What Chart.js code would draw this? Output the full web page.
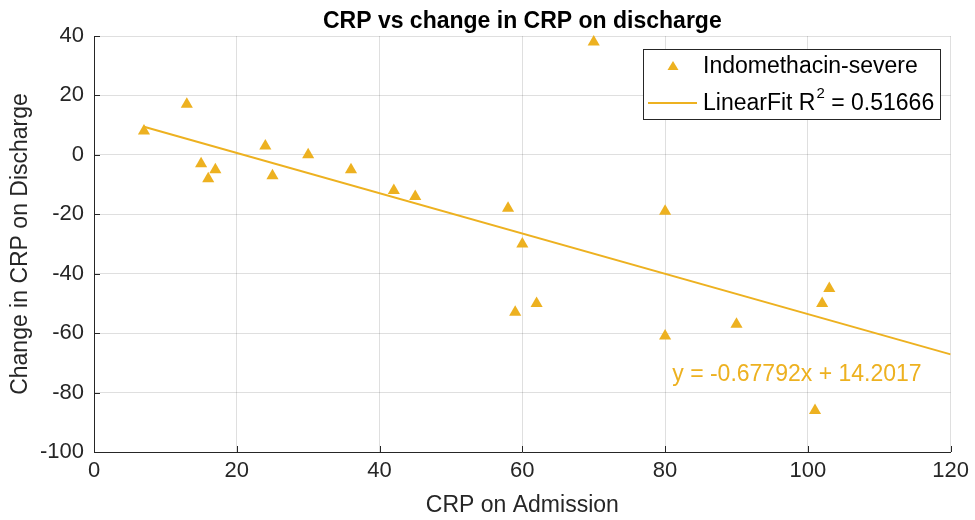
<!DOCTYPE html>
<html>
<head>
<meta charset="utf-8">
<script src="https://cdn.jsdelivr.net/npm/chart.js@4"></script>
<style>
html, body { margin: 0; padding: 0; background: #fff; }
#wrap { width: 975px; height: 520px; }
</style>
</head>
<body>
<div id="wrap"><canvas id="myChart"></canvas></div>
<script>
// data
const crpAdmission = [7, 13, 15, 16, 17, 24, 25, 30, 36, 42, 45, 58, 59, 60, 62, 70, 80, 80, 90, 101, 102, 103];
const crpChange    = [8, 17, -3, -8, -5, 3, -7, 0, -5, -12, -14, -18, -53, -30, -50, 38, -19, -61, -57, -86, -50, -45];
const fitX = [7, 120];
const fitY = [9.456, -67.149];
const xTicks = [0, 20, 40, 60, 80, 100, 120];
const yTicks = [-100, -80, -60, -40, -20, 0, 20, 40];
const seriesLabel = 'Indomethacin-severe';
const fitLabel = 'LinearFit R';
const fitR2 = ' = 0.51666';
const equation = 'y = -0.67792x + 14.2017';
const titleText = 'CRP vs change in CRP on discharge';

const FONT = "'Liberation Sans', Arial, Helvetica, sans-serif";
const ORANGE = '#EDB120';
const AXIS = '#262626';

const decor = {
    id: 'decor',
    afterDraw(chart) {
        const ctx = chart.ctx;
        const xs = chart.scales.x, ys = chart.scales.y;
        const area = chart.chartArea;
        ctx.save();

        // inward tick marks
        ctx.strokeStyle = AXIS;
        ctx.lineWidth = 1;
        ctx.beginPath();
        xTicks.forEach(v => {
            const px = Math.round(xs.getPixelForValue(v)) + 0.5;
            ctx.moveTo(px, area.bottom);
            ctx.lineTo(px, area.bottom - 6);
        });
        yTicks.forEach(v => {
            const py = Math.round(ys.getPixelForValue(v)) + 0.5;
            ctx.moveTo(area.left, py);
            ctx.lineTo(area.left + 6, py);
        });
        ctx.stroke();

        // title
        ctx.fillStyle = '#000';
        ctx.font = 'bold 23px ' + FONT;
        ctx.textAlign = 'center';
        ctx.textBaseline = 'middle';
        ctx.fillText(titleText, (area.left + area.right) / 2, 22);

        // fit equation
        ctx.fillStyle = ORANGE;
        ctx.font = '23px ' + FONT;
        ctx.textAlign = 'left';
        ctx.fillText(equation, xs.getPixelForValue(81), ys.getPixelForValue(-74));

        // legend box
        const bx = 643, by = 49, bw = 297, bh = 70;
        ctx.fillStyle = '#fff';
        ctx.fillRect(bx, by, bw, bh);
        ctx.strokeStyle = AXIS;
        ctx.lineWidth = 1;
        ctx.strokeRect(bx + 0.5, by + 0.5, bw, bh);

        ctx.fillStyle = ORANGE;
        ctx.beginPath();
        ctx.moveTo(673, 61);
        ctx.lineTo(678.5, 70);
        ctx.lineTo(667.5, 70);
        ctx.closePath();
        ctx.fill();

        ctx.strokeStyle = ORANGE;
        ctx.lineWidth = 2;
        ctx.beginPath();
        ctx.moveTo(648, 103);
        ctx.lineTo(697, 103);
        ctx.stroke();

        ctx.fillStyle = '#000';
        ctx.font = '23px ' + FONT;
        ctx.textAlign = 'left';
        ctx.textBaseline = 'middle';
        ctx.fillText(seriesLabel, 703, 67);
        ctx.fillText(fitLabel, 703, 104);
        let w = ctx.measureText(fitLabel).width;
        ctx.font = '15px ' + FONT;
        ctx.fillText('2', 703 + w + 1, 94);
        w += ctx.measureText('2').width + 1;
        ctx.font = '23px ' + FONT;
        ctx.fillText(fitR2, 703 + w, 104);

        ctx.restore();
    }
};

const ctx = document.getElementById('myChart');
new Chart(ctx, {
    type: 'scatter',
    data: {
        datasets: [{
            label: seriesLabel,
            data: crpAdmission.map((x, i) => ({ x: x, y: crpChange[i] })),
            pointStyle: 'triangle',
            pointRadius: 7,
            pointHoverRadius: 7,
            backgroundColor: ORANGE,
            borderColor: ORANGE,
            borderWidth: 0,
            clip: false,
            order: 1
        }, {
            type: 'line',
            label: 'LinearFit',
            data: fitX.map((x, i) => ({ x: x, y: fitY[i] })),
            borderColor: ORANGE,
            borderWidth: 2,
            pointRadius: 0,
            fill: false,
            order: 2
        }]
    },
    options: {
        responsive: true,
        maintainAspectRatio: false,
        devicePixelRatio: 1,
        animation: false,
        events: [],
        layout: { padding: { top: 36, right: 23, left: 0, bottom: 0 } },
        plugins: {
            legend: { display: false },
            tooltip: { enabled: false },
            title: { display: false }
        },
        scales: {
            x: {
                type: 'linear',
                min: 0, max: 120,
                afterBuildTicks: s => { s.ticks = xTicks.map(v => ({ value: v })); },
                afterFit: s => { s.height = 68; },
                grid: { color: 'rgba(38,38,38,0.15)', drawTicks: false },
                border: { color: AXIS, width: 1 },
                ticks: { color: AXIS, padding: 6, maxRotation: 0, font: { family: FONT, size: 22 } },
                title: { display: true, text: 'CRP on Admission', color: AXIS, padding: { top: 0, bottom: 1 }, font: { family: FONT, size: 23 } }
            },
            y: {
                type: 'linear',
                min: -100, max: 40,
                afterBuildTicks: s => { s.ticks = yTicks.map(v => ({ value: v })); },
                afterFit: s => { s.width = 94; },
                grid: { color: 'rgba(38,38,38,0.15)', drawTicks: false },
                border: { color: AXIS, width: 1 },
                ticks: { color: AXIS, padding: 10, font: { family: FONT, size: 22 } },
                title: { display: true, text: 'Change in CRP on Discharge', color: AXIS, padding: { top: 7, bottom: 0 }, font: { family: FONT, size: 23 } }
            }
        }
    },
    plugins: [decor]
});
</script>
</body>
</html>
